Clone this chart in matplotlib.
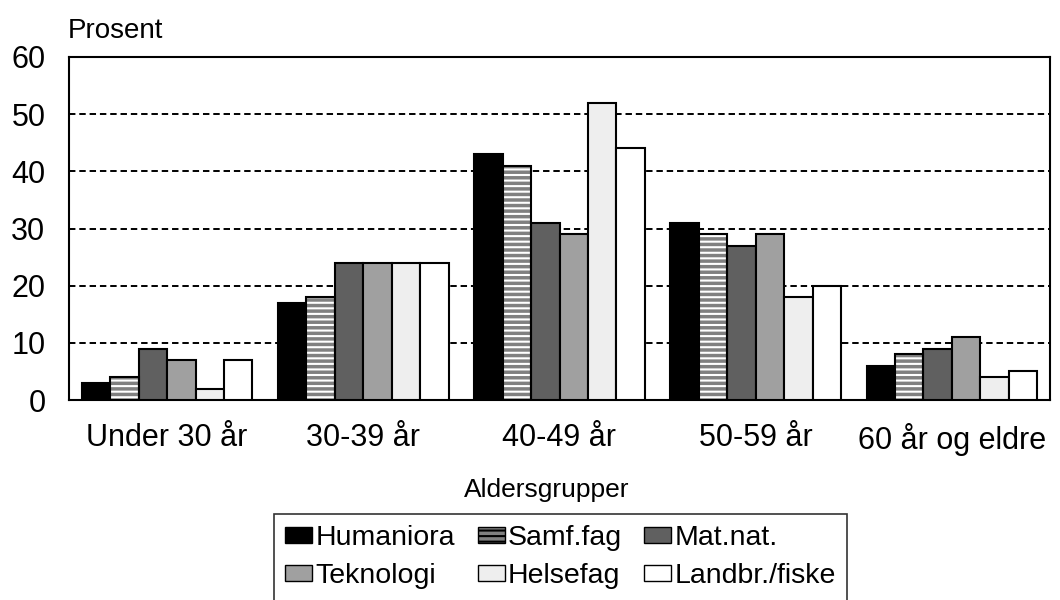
import matplotlib
matplotlib.use("Agg")
import matplotlib.pyplot as plt
import numpy as np
from matplotlib.patches import Patch

plt.rcParams['font.family'] = ['Liberation Sans', 'DejaVu Sans']
plt.rcParams['hatch.linewidth'] = 1.5

categories = ["Under 30 år", "30-39 år", "40-49 år", "50-59 år", "60 år og eldre"]
series_names = ["Humaniora", "Samf.fag", "Mat.nat.", "Teknologi", "Helsefag", "Landbr./fiske"]
humaniora = [3, 17, 43, 31, 6]
samffag = [4, 18, 41, 29, 8]
matnat = [9, 24, 31, 27, 9]
teknologi = [7, 24, 29, 29, 11]
helsefag = [2, 24, 52, 18, 4]
landbr = [7, 24, 44, 20, 5]
values = [humaniora, samffag, matnat, teknologi, helsefag, landbr]
colors = ["#000000", "#808080", "#606060", "#a0a0a0", "#eeeeee", "#ffffff"]

fig = plt.figure(figsize=(10.6, 6), dpi=100)
ax = fig.add_axes([69/1060, 1-400/600, (1050-69)/1060, (400-57)/600])

x = np.arange(len(categories))
w = 0.145
n = len(series_names)
for i, (name, vals, c) in enumerate(zip(series_names, values, colors)):
    pos = x + (i - (n-1)/2) * w
    if i == 1:
        ax.bar(pos, vals, w, color=c, edgecolor="white", hatch="---", linewidth=0, zorder=3)
        ax.bar(pos, vals, w, facecolor="none", edgecolor="black", linewidth=1.5, zorder=4)
    else:
        ax.bar(pos, vals, w, color=c, edgecolor="black", linewidth=1.5, zorder=3)

ax.set_xlim(-0.5, len(categories)-0.5)
ax.set_ylim(0, 60)
ax.set_yticks([0, 10, 20, 30, 40, 50, 60])
ax.set_xticks(x)
ax.set_xticklabels(categories, fontsize=22)
ax.tick_params(axis='y', labelsize=22, length=0, pad=17)
ax.tick_params(axis='x', length=0, pad=16.5)
for y in [10, 20, 30, 40, 50]:
    ax.axhline(y, color="black", linestyle=(0, (3.3, 2.0)), linewidth=1.4, zorder=1)
for s in ax.spines.values():
    s.set_linewidth(1.5)
    s.set_color("black")

fig.text(68/1060, 1-31/600, "Prosent", fontsize=20, ha="left", va="center")
fig.text(547/1060, 1-490/600, "Aldersgrupper", fontsize=19, ha="center", va="center")

handles = []
for i, (name, c) in enumerate(zip(series_names, colors)):
    if i == 1:
        handles.append(Patch(facecolor=c, edgecolor="black", hatch="---", label=name))
    else:
        handles.append(Patch(facecolor=c, edgecolor="black", label=name))
order = [0, 3, 1, 4, 2, 5]
leg = fig.legend([handles[k] for k in order], [series_names[k] for k in order],
                 ncol=3, loc="upper left", bbox_to_anchor=(274/1060, 1-514/600),
                 fontsize=20.5, frameon=True, fancybox=False, edgecolor="black",
                 handlelength=0.95, handleheight=0.5, handletextpad=0.1,
                 columnspacing=0.8, labelspacing=0.42, borderpad=0.4, borderaxespad=0)
leg.get_frame().set_linewidth(1.2)

fig.savefig("out.png", dpi=100)
